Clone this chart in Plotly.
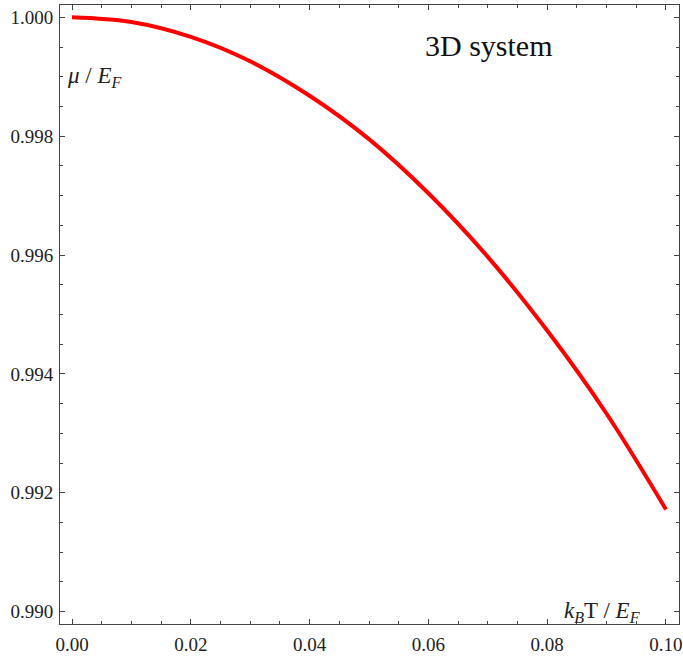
import plotly.graph_objects as go

# Data
kT_over_EF = [0.00, 0.01, 0.02, 0.03, 0.04, 0.05, 0.06, 0.07, 0.08, 0.09, 0.10]
mu_over_EF = [1.00000, 0.99992, 0.99967, 0.99926, 0.99868, 0.99795,
              0.99704, 0.99597, 0.99473, 0.99333, 0.99172]
x_ticks = [0.00, 0.02, 0.04, 0.06, 0.08, 0.10]
x_tick_labels = ["0.00", "0.02", "0.04", "0.06", "0.08", "0.10"]
y_ticks = [0.990, 0.992, 0.994, 0.996, 0.998, 1.000]
y_tick_labels = ["0.990", "0.992", "0.994", "0.996", "0.998", "1.000"]

W, H = 683, 656
L, R, T, B = 60, 4, 5, 32
PH = H - T - B
PW = W - L - R

fig = go.Figure()
fig.add_trace(go.Scatter(
    x=kT_over_EF, y=mu_over_EF, mode="lines",
    line=dict(color="#ff0000", width=4, shape="spline"),
    hoverinfo="skip", showlegend=False,
))

font = dict(family="Liberation Serif, Times New Roman, serif", size=19, color="#222222")
axis_common = dict(
    showgrid=False, zeroline=False, showline=True, linecolor="#444444", linewidth=1,
    mirror="ticks", ticks="inside", ticklen=5, tickwidth=1, tickcolor="#444444",
    tickfont=font, automargin=False,
)

fig.update_layout(
    width=W, height=H,
    margin=dict(l=L, r=R, t=T, b=B, pad=0, autoexpand=False),
    paper_bgcolor="white", plot_bgcolor="white",
    xaxis=dict(range=[-0.00202, 0.10219], tickvals=x_ticks, ticktext=x_tick_labels,
               minor=dict(dtick=0.005, tick0=0, ticks="inside", ticklen=3,
                          tickcolor="#444444", tickwidth=1),
               ticklabelstandoff=3,
               **axis_common),
    yaxis=dict(range=[0.989793, 1.000207], tickvals=y_ticks, ticktext=y_tick_labels,
               minor=dict(dtick=0.0005, tick0=0.99, ticks="inside", ticklen=3,
                          tickcolor="#444444", tickwidth=1),
               ticklabelstandoff=2,
               **axis_common),
    annotations=[
        dict(text="<i>μ</i> / <i>E</i><sub><i>F</i></sub>", xref="paper", yref="paper",
             x=(65 - L) / PW, y=(624 - 77) / PH, xanchor="left", yanchor="middle",
             showarrow=False, font=dict(family="Liberation Serif, serif", size=23, color="#222222")),
        dict(text="<i>k</i><sub><i>B</i></sub>T / <i>E</i><sub><i>F</i></sub>", xref="paper", yref="paper",
             x=(562 - L) / PW, y=(624 - 612) / PH, xanchor="left", yanchor="middle",
             showarrow=False, font=dict(family="Liberation Serif, serif", size=23, color="#222222")),
        dict(text="3D system", xref="paper", yref="paper",
             x=(423 - L) / PW, y=(624 - 45) / PH, xanchor="left", yanchor="middle",
             showarrow=False, font=dict(family="Liberation Serif, serif", size=30, color="#111111")),
    ],
)

fig.write_html("out.html")
